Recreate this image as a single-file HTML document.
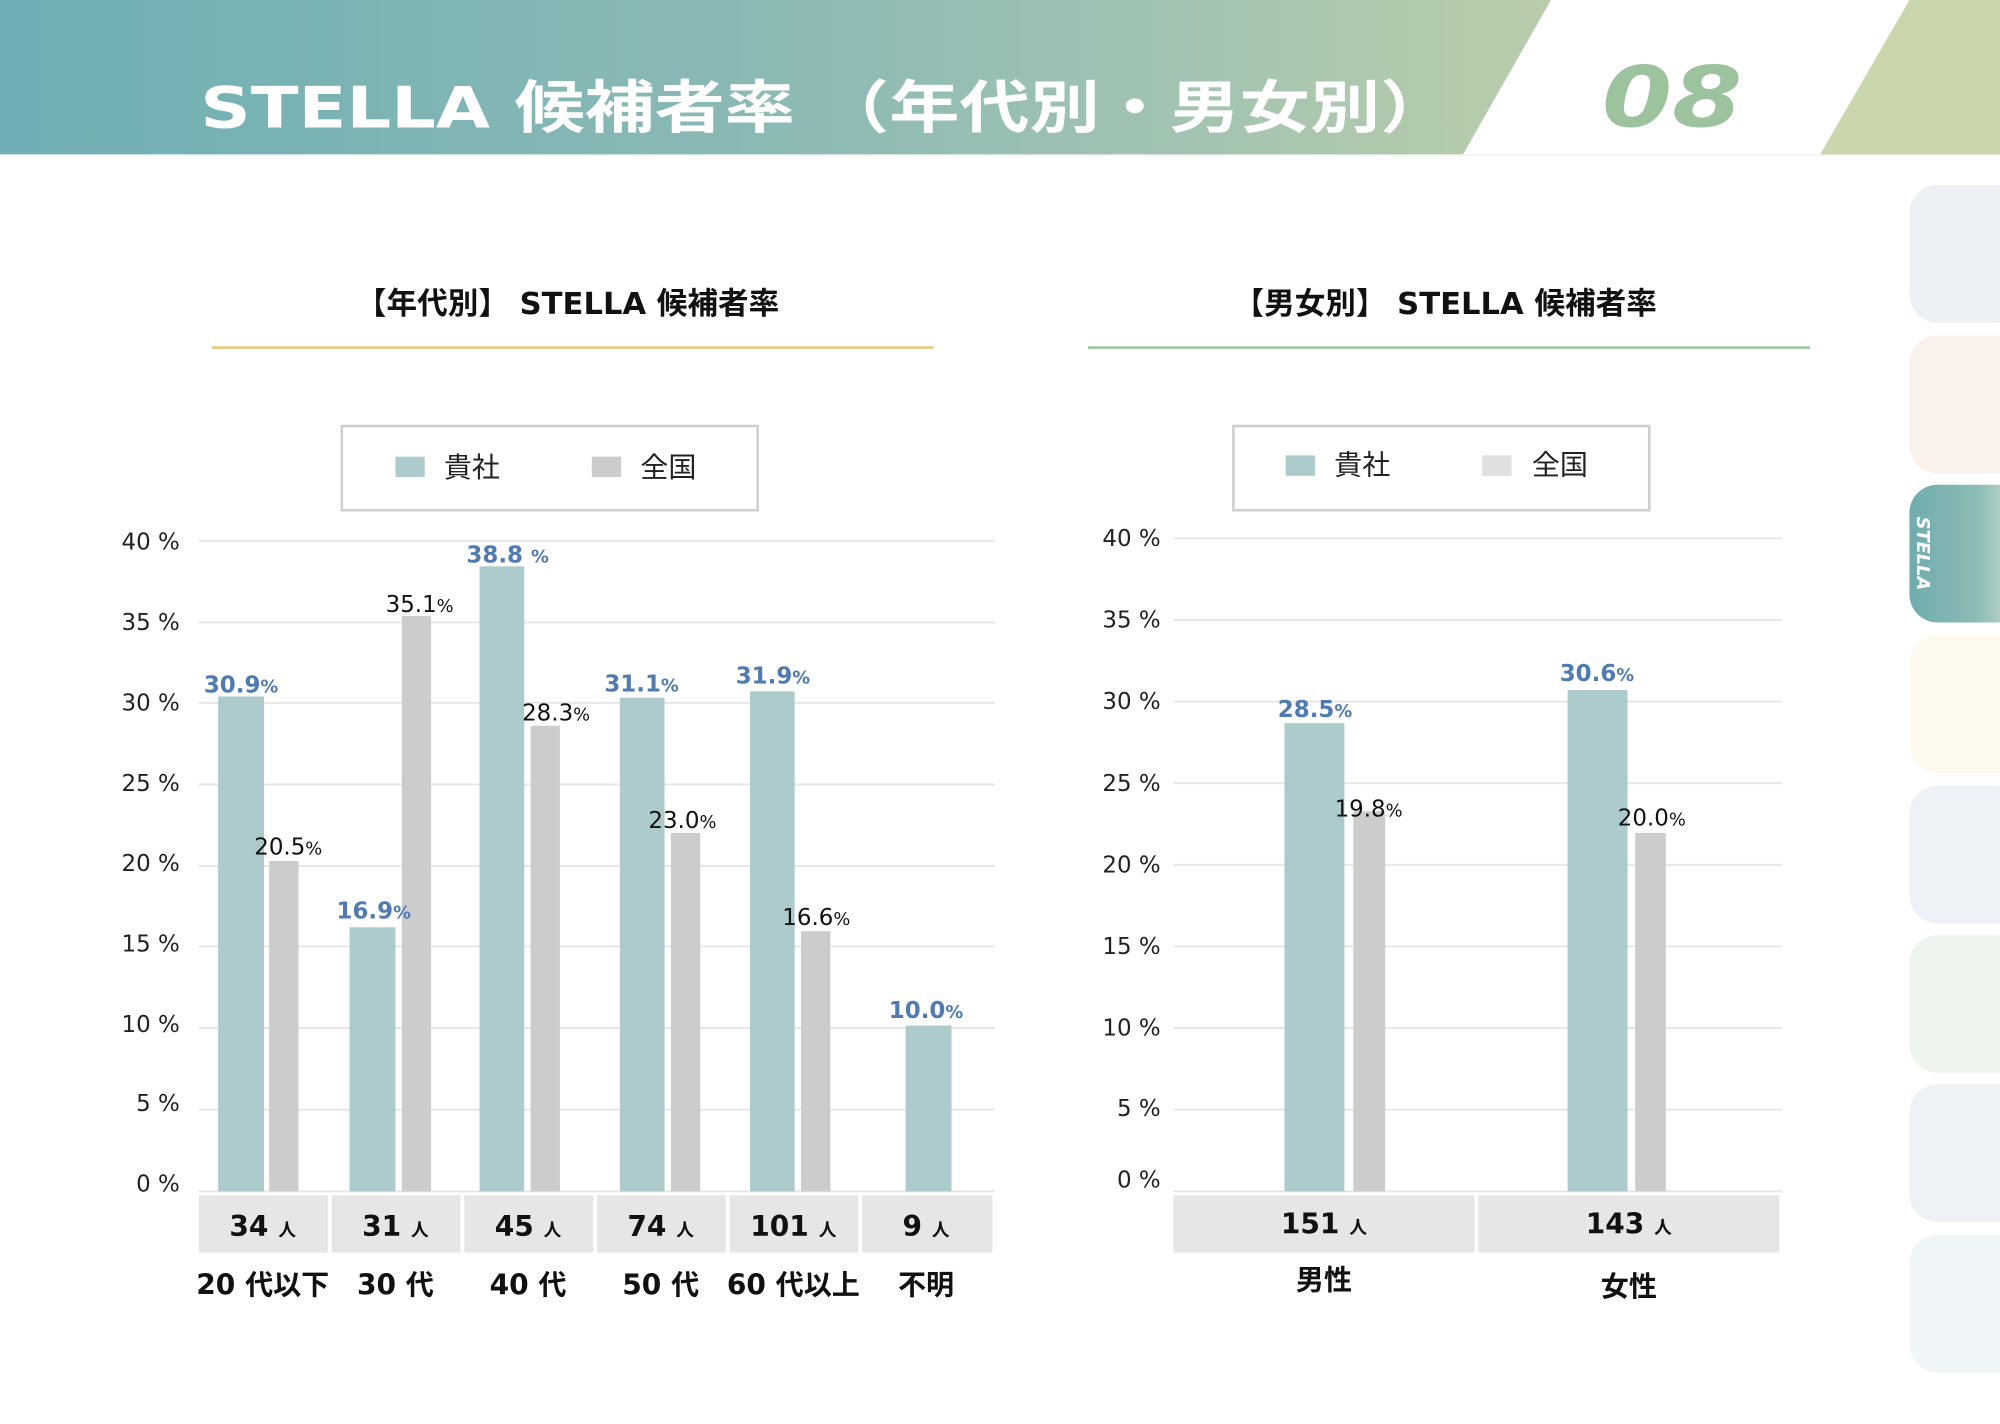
<!DOCTYPE html>
<html><head><meta charset="utf-8"><style>
html,body{margin:0;padding:0;background:#fff;}
svg{display:block;}
text{font-family:"DejaVu Sans","Noto Sans CJK JP",sans-serif;}
</style></head><body>
<svg width="2000" height="1424" viewBox="0 0 1568 1116.4" preserveAspectRatio="none" xmlns="http://www.w3.org/2000/svg">
<defs>
<linearGradient id="hg" x1="0" x2="1" y1="0" y2="0">
<stop offset="0" stop-color="#6eaeb4"/><stop offset="0.55" stop-color="#8fbbb5"/><stop offset="1" stop-color="#b9cdab"/>
</linearGradient>
<linearGradient id="tg" x1="0" x2="1" y1="0" y2="0">
<stop offset="0" stop-color="#70acae"/><stop offset="0.6" stop-color="#8dbcb6"/><stop offset="1" stop-color="#d2e0d6"/>
</linearGradient>
</defs>
<rect width="1568" height="1117" fill="#fff"/>
<polygon points="0,0 1216,0 1147,121 0,121" fill="url(#hg)"/>
<polygon points="1497,0 1568,0 1568,121 1427,121" fill="#cad6ab"/>
<line x1="0" y1="121.5" x2="1568" y2="121.5" stroke="#eef0ee" stroke-width="1"/>
<text x="157" y="100" font-size="45" font-weight="bold" fill="#fff" textLength="980" lengthAdjust="spacingAndGlyphs">STELLA 候補者率 （年代別・男女別）</text>
<text x="1256" y="99" font-size="66" font-weight="bold" font-style="italic" fill="#9dc29e" textLength="110" lengthAdjust="spacingAndGlyphs">08</text>

<g>
<rect x="1497" y="145" width="90" height="108" rx="22" fill="#edf1f5"/>
<rect x="1497" y="263" width="90" height="108" rx="22" fill="#faf1ea"/>
<rect x="1497" y="380" width="90" height="108" rx="22" fill="url(#tg)"/>
<rect x="1497" y="498" width="90" height="108" rx="22" fill="#fdf9ec"/>
<rect x="1497" y="616" width="90" height="108" rx="22" fill="#eef2f7"/>
<rect x="1497" y="733" width="90" height="108" rx="22" fill="#eef4ee"/>
<rect x="1497" y="850" width="90" height="108" rx="22" fill="#eef2f6"/>
<rect x="1497" y="968" width="90" height="108" rx="22" fill="#f0f5f7"/>
<text transform="translate(1503,405) rotate(90)" font-size="14" font-weight="bold" font-style="italic" fill="#fff">STELLA</text>
</g>

<text x="445" y="246" font-size="24" font-weight="bold" fill="#111" text-anchor="middle">【年代別】 STELLA 候補者率</text>
<line x1="166" y1="272.5" x2="732" y2="272.5" stroke="#e9c97c" stroke-width="2"/>
<text x="1133" y="246" font-size="24" font-weight="bold" fill="#111" text-anchor="middle">【男女別】 STELLA 候補者率</text>
<line x1="853" y1="272.5" x2="1419" y2="272.5" stroke="#9ec5a2" stroke-width="2"/>

<rect x="268" y="334" width="326" height="66" fill="#fff" stroke="#cfcfcf" stroke-width="2"/>
<rect x="310" y="358" width="23" height="16" fill="#adcacd"/>
<text x="348" y="374" font-size="22" fill="#222">貴社</text>
<rect x="464" y="358" width="23" height="16" fill="#cccccc"/>
<text x="502" y="374" font-size="22" fill="#222">全国</text>

<rect x="967" y="334" width="326" height="66" fill="#fff" stroke="#cfcfcf" stroke-width="2"/>
<rect x="1008" y="357" width="23" height="16" fill="#adcacd"/>
<text x="1046" y="372" font-size="22" fill="#222">貴社</text>
<rect x="1162" y="357" width="23" height="16" fill="#e0e0e0"/>
<text x="1201" y="372" font-size="22" fill="#222">全国</text>

<g stroke="#e6e6e6" stroke-width="1.5">
<line x1="156" x2="780" y1="424" y2="424"/><line x1="156" x2="780" y1="488" y2="488"/>
<line x1="156" x2="780" y1="551" y2="551"/><line x1="156" x2="780" y1="615" y2="615"/>
<line x1="156" x2="780" y1="679" y2="679"/><line x1="156" x2="780" y1="742" y2="742"/>
<line x1="156" x2="780" y1="806" y2="806"/><line x1="156" x2="780" y1="870" y2="870"/>
<line x1="156" x2="780" y1="934" y2="934"/>
</g>
<g font-size="18" fill="#222" text-anchor="end">
<text x="141" y="431">40 %</text><text x="141" y="494">35 %</text><text x="141" y="557">30 %</text>
<text x="141" y="620">25 %</text><text x="141" y="683">20 %</text><text x="141" y="746">15 %</text>
<text x="141" y="809">10 %</text><text x="141" y="871">5 %</text><text x="141" y="934">0 %</text>
</g>
<g fill="#adcacd">
<rect x="171" y="546" width="36" height="388"/><rect x="274" y="727" width="36" height="207"/>
<rect x="376" y="444" width="35" height="490"/><rect x="486" y="547" width="35" height="387"/>
<rect x="588" y="542" width="35" height="392"/><rect x="710" y="804" width="36" height="130"/>
</g>
<g fill="#cccccc">
<rect x="211" y="675" width="23" height="259"/><rect x="315" y="483" width="23" height="451"/>
<rect x="416" y="569" width="23" height="365"/><rect x="526" y="653" width="23" height="281"/>
<rect x="628" y="730" width="23" height="204"/>
</g>
<g font-size="18" font-weight="bold" fill="#4f7bb0" text-anchor="middle">
<text x="189" y="543">30.9<tspan font-size="14">%</tspan></text>
<text x="293" y="720">16.9<tspan font-size="14">%</tspan></text>
<text x="398" y="441">38.8 <tspan font-size="14">%</tspan></text>
<text x="503" y="542">31.1<tspan font-size="14">%</tspan></text>
<text x="606" y="536">31.9<tspan font-size="14">%</tspan></text>
<text x="726" y="798">10.0<tspan font-size="14">%</tspan></text>
</g>
<g font-size="18" fill="#111" text-anchor="middle">
<text x="226" y="670">20.5<tspan font-size="14">%</tspan></text>
<text x="329" y="480">35.1<tspan font-size="14">%</tspan></text>
<text x="436" y="565">28.3<tspan font-size="14">%</tspan></text>
<text x="535" y="649">23.0<tspan font-size="14">%</tspan></text>
<text x="640" y="725">16.6<tspan font-size="14">%</tspan></text>
</g>
<g fill="#e6e6e6">
<rect x="156" y="937" width="101" height="45"/><rect x="260" y="937" width="101" height="45"/>
<rect x="364" y="937" width="101" height="45"/><rect x="468" y="937" width="101" height="45"/>
<rect x="572" y="937" width="101" height="45"/><rect x="676" y="937" width="102" height="45"/>
</g>
<g font-size="22" font-weight="bold" fill="#111" text-anchor="middle">
<text x="206" y="969">34 <tspan font-size="14">人</tspan></text>
<text x="310" y="969">31 <tspan font-size="14">人</tspan></text>
<text x="414" y="969">45 <tspan font-size="14">人</tspan></text>
<text x="518" y="969">74 <tspan font-size="14">人</tspan></text>
<text x="622" y="969">101 <tspan font-size="14">人</tspan></text>
<text x="726" y="969">9 <tspan font-size="14">人</tspan></text>
<text x="206" y="1015">20 代以下</text>
<text x="310" y="1015">30 代</text>
<text x="414" y="1015">40 代</text>
<text x="518" y="1015">50 代</text>
<text x="622" y="1015">60 代以上</text>
<text x="726" y="1015">不明</text>
</g>

<g stroke="#e6e6e6" stroke-width="1.5">
<line x1="920" x2="1397" y1="422" y2="422"/><line x1="920" x2="1397" y1="486" y2="486"/>
<line x1="920" x2="1397" y1="550" y2="550"/><line x1="920" x2="1397" y1="614" y2="614"/>
<line x1="920" x2="1397" y1="678" y2="678"/><line x1="920" x2="1397" y1="742" y2="742"/>
<line x1="920" x2="1397" y1="806" y2="806"/><line x1="920" x2="1397" y1="870" y2="870"/>
<line x1="920" x2="1397" y1="934" y2="934"/>
</g>
<g font-size="18" fill="#222" text-anchor="end">
<text x="910" y="428">40 %</text><text x="910" y="492">35 %</text><text x="910" y="556">30 %</text>
<text x="910" y="620">25 %</text><text x="910" y="684">20 %</text><text x="910" y="748">15 %</text>
<text x="910" y="812">10 %</text><text x="910" y="875">5 %</text><text x="910" y="931">0 %</text>
</g>
<rect x="1007" y="567" width="47" height="367" fill="#adcacd"/>
<rect x="1229" y="541" width="47" height="393" fill="#adcacd"/>
<rect x="1061" y="636" width="25" height="298" fill="#cccccc"/>
<rect x="1282" y="653" width="24" height="281" fill="#cccccc"/>
<g font-size="18" font-weight="bold" fill="#4f7bb0" text-anchor="middle">
<text x="1031" y="562">28.5<tspan font-size="14">%</tspan></text>
<text x="1252" y="534">30.6<tspan font-size="14">%</tspan></text>
</g>
<g font-size="18" fill="#111" text-anchor="middle">
<text x="1073" y="640">19.8<tspan font-size="14">%</tspan></text>
<text x="1295" y="647">20.0<tspan font-size="14">%</tspan></text>
</g>
<rect x="920" y="937" width="236" height="45" fill="#e6e6e6"/>
<rect x="1159" y="937" width="236" height="45" fill="#e6e6e6"/>
<g font-size="22" font-weight="bold" fill="#111" text-anchor="middle">
<text x="1038" y="967">151 <tspan font-size="14">人</tspan></text>
<text x="1277" y="967">143 <tspan font-size="14">人</tspan></text>
<text x="1038" y="1011">男性</text>
<text x="1277" y="1016">女性</text>
</g>
</svg>
</body></html>
